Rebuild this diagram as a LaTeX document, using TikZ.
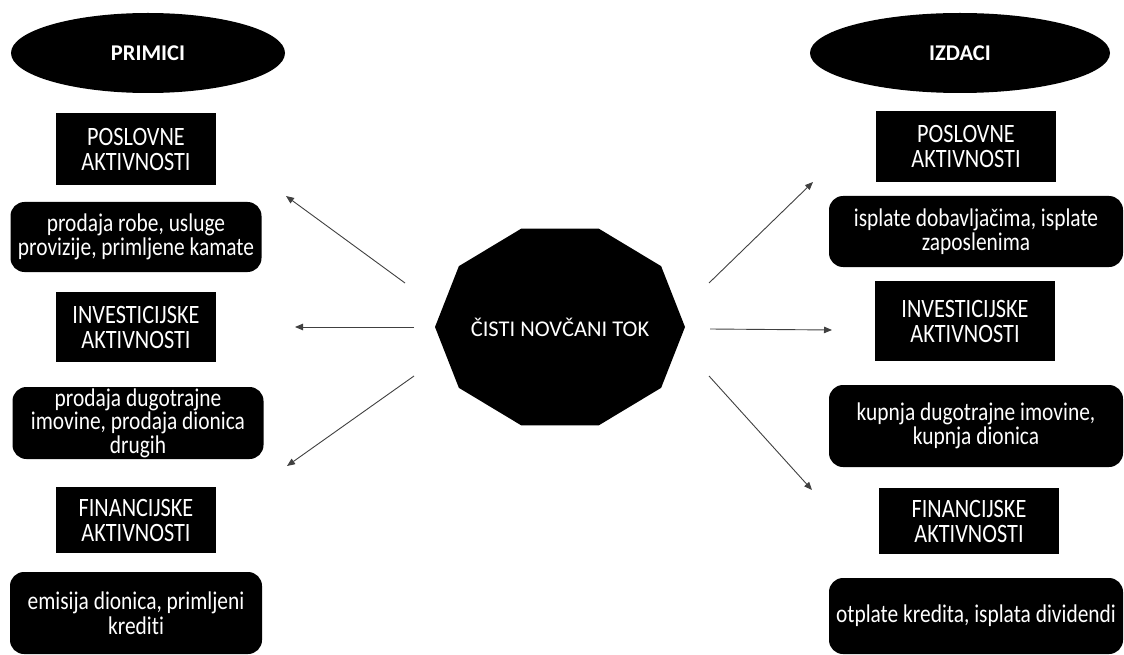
\documentclass[tikz,border=0pt]{standalone}
\usepackage{fontspec}
\setmainfont{Carlito}[Ligatures=NoCommon]
\newfontfamily\boxfont{Carlito}[FakeStretch=0.84, Ligatures=NoCommon]
\usetikzlibrary{shapes.geometric, arrows.meta, positioning}

\begin{document}
\begin{tikzpicture}[x=1pt, y=-1pt,
    head/.style={ellipse, fill=black, text=white, inner sep=0pt, font=\bfseries\fontsize{22.5}{26}\selectfont},
    kind/.style={rectangle, fill=black, text=white, inner sep=0pt, align=center, font=\boxfont\fontsize{26.5}{25}\selectfont},
    opis/.style={rectangle, rounded corners=14pt, fill=black, text=white, inner sep=0pt, align=center, font=\boxfont\fontsize{25.5}{24.5}\selectfont},
    tokstyle/.style={text=white, inner sep=0pt, font=\fontsize{22.5}{26}\selectfont},
    flow/.style={-{Triangle[length=8pt, width=6.5pt]}, draw=black!75, line width=0.9pt}]

        \useasboundingbox (0,0) rectangle (1124,655);

        % Headers
        \node[head, minimum width=274pt, minimum height=80pt] (primici) at (148,53) {PRIMICI};
        \node[head, minimum width=300pt, minimum height=80pt] (izdaci) at (960,53) {IZDACI};

        % Left column (primici)
        \node[kind, minimum width=160pt, minimum height=72pt] (lposlovne) at (136,149) {POSLOVNE\\AKTIVNOSTI};
        \node[opis, minimum width=251pt, minimum height=70pt] (lposlovneopis) at (136,237) {prodaja robe, usluge\\provizije, primljene kamate};
        \node[kind, minimum width=160pt, minimum height=70pt] (linvest) at (136,327) {INVESTICIJSKE\\AKTIVNOSTI};
        \node[opis, minimum width=251pt, minimum height=72pt, font=\boxfont\fontsize{25.5}{23.5}\selectfont] (linvestopis) at (138,423) {prodaja dugotrajne\\imovine, prodaja dionica\\drugih};
        \node[kind, minimum width=160pt, minimum height=66pt] (lfinanc) at (136,520) {FINANCIJSKE\\AKTIVNOSTI};
        \node[opis, minimum width=252pt, minimum height=82pt] (lfinancopis) at (136,613) {emisija dionica, primljeni\\krediti};

        % Right column (izdaci)
        \node[kind, minimum width=180pt, minimum height=71pt] (rposlovne) at (966,146.5) {POSLOVNE\\AKTIVNOSTI};
        \node[opis, minimum width=294pt, minimum height=71pt] (rposlovneopis) at (976,231.5) {isplate dobavljačima, isplate\\zaposlenima};
        \node[kind, minimum width=180pt, minimum height=80pt] (rinvest) at (965,321) {INVESTICIJSKE\\AKTIVNOSTI};
        \node[opis, minimum width=294pt, minimum height=82pt] (rinvestopis) at (976,426) {kupnja dugotrajne imovine,\\kupnja dionica};
        \node[kind, minimum width=180pt, minimum height=66pt] (rfinanc) at (969,521) {FINANCIJSKE\\AKTIVNOSTI};
        \node[opis, minimum width=294pt, minimum height=76pt] (rfinancopis) at (976,616) {otplate kredita, isplata dividendi};

        % Centre (decagon)
        \fill (560,327) +(0:125 and 103.5) \foreach \a in {36,72,...,324} { -- +(\a:125 and 103.5)} -- cycle;
        \node[tokstyle] (tok) at (560,327) {ČISTI NOVČANI TOK};

        % Arrow ends
        \coordinate (la1) at (405,283); \coordinate (la2) at (286,196);
        \coordinate (lb1) at (414,327); \coordinate (lb2) at (295,327);
        \coordinate (lc1) at (414,376); \coordinate (lc2) at (287,466);
        \coordinate (ra1) at (709,283); \coordinate (ra2) at (813,182);
        \coordinate (rb1) at (710,329); \coordinate (rb2) at (832,330);
        \coordinate (rc1) at (709,376); \coordinate (rc2) at (812,490);

        % Arrows
        \draw[flow] (la1) -- (la2);
        \draw[flow] (lb1) -- (lb2);
        \draw[flow] (lc1) -- (lc2);
        \draw[flow] (ra1) -- (ra2);
        \draw[flow] (rb1) -- (rb2);
        \draw[flow] (rc1) -- (rc2);

\end{tikzpicture}
\end{document}
